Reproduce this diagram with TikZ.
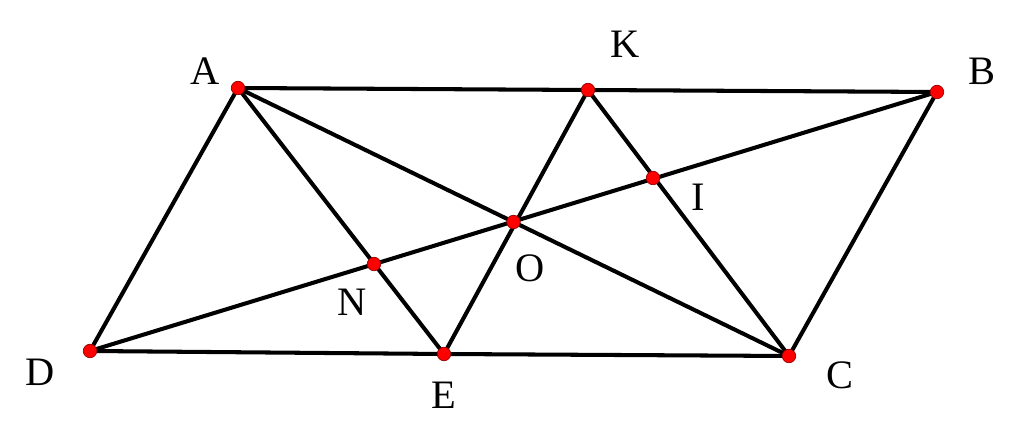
\documentclass[tikz,border=0pt]{standalone}
\usepackage{fontspec}
\setmainfont{Liberation Serif}
\usepackage{tikz}
\usetikzlibrary{arrows.meta}
\tikzstyle{edge} = [draw, black, line width=2.3pt, line cap=round, line join=round]
\tikzstyle{pt} = [circle, draw=red!60!black, line width=0.4pt, fill=red, inner sep=0pt, minimum size=0.27cm]
\tikzstyle{lbl} = [inner sep=0pt, font=\fontsize{23}{27}\selectfont]

\begin{document}
\begin{tikzpicture}
    \useasboundingbox (0,0) rectangle (20.48,8.78);
    % Points
    \coordinate (A) at (4.76,7.02);
    \coordinate (K) at (11.76,6.98);
    \coordinate (B) at (18.74,6.94);
    \coordinate (D) at (1.80,1.76);
    \coordinate (E) at (8.88,1.70);
    \coordinate (C) at (15.78,1.66);
    \coordinate (O) at (10.27,4.34);
    \coordinate (N) at (7.48,3.50);
    \coordinate (I) at (13.06,5.22);
    % Edges
    \path [edge] (A) -- (K) -- (B) -- (C) -- (E) -- (D) -- cycle;
    \path [edge] (A) -- (C);
    \path [edge] (B) -- (D);
    \path [edge] (A) -- (E);
    \path [edge] (K) -- (E);
    \path [edge] (K) -- (C);
    % Dots
    \foreach \p in {A,K,B,D,E,C,O,N,I}
        \node [pt] (dot\p) at (\p) {};
    % Labels
    \node [lbl] (lA) at (4.10,7.36) {A};
    \node [lbl] (lK) at (12.50,7.90) {K};
    \node [lbl] (lB) at (19.64,7.36) {B};
    \node [lbl] (lD) at (0.80,1.34) {D};
    \node [lbl] (lE) at (8.88,0.88) {E};
    \node [lbl] (lC) at (16.80,1.28) {C};
    \node [lbl] (lO) at (10.60,3.42) {O};
    \node [lbl] (lN) at (7.04,2.74) {N};
    \node [lbl] (lI) at (13.96,4.84) {I};
\end{tikzpicture}
\end{document}
